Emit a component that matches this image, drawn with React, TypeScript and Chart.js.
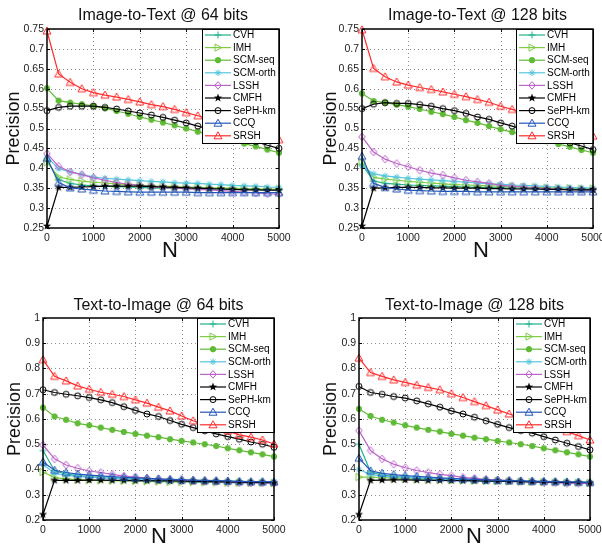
import React, { useEffect, useRef } from "react";
import { Chart, registerables } from "chart.js";

Chart.register(...registerables);

// ---------- data ----------
const N_VALUES = [0, 250, 500, 750, 1000, 1250, 1500, 1750, 2000, 2250, 2500, 2750, 3000, 3250, 3500, 3750, 4000, 4250, 4500, 4750, 5000];
const X_TICKS = [0, 1000, 2000, 3000, 4000, 5000];
const Y_TICKS_I2T = [0.25, 0.3, 0.35, 0.4, 0.45, 0.5, 0.55, 0.6, 0.65, 0.7, 0.75];
const Y_TICKS_T2I = [0.2, 0.3, 0.4, 0.5, 0.6, 0.7, 0.8, 0.9, 1];

const SERIES_NAMES = ["CVH", "IMH", "SCM-seq", "SCM-orth", "LSSH", "CMFH", "SePH-km", "CCQ", "SRSH"];
const SERIES_COLORS = ["#1fb38c", "#7fcc45", "#5fba35", "#55c6dd", "#bb63c8", "#000000", "#000000", "#2356b8", "#ff2b2b"];
const SERIES_MARKERS = ["plus", "triRight", "dot", "asterisk", "diamond", "star", "circle", "triUp", "triUp"];

// Image-to-Text @ 64 bits
const i2t64_CVH = [0.420, 0.372, 0.362, 0.358, 0.356, 0.355, 0.354, 0.353, 0.352, 0.351, 0.350, 0.350, 0.349, 0.349, 0.348, 0.348, 0.347, 0.347, 0.347, 0.346, 0.346];
const i2t64_IMH = [0.415, 0.378, 0.372, 0.368, 0.365, 0.363, 0.361, 0.359, 0.358, 0.356, 0.355, 0.354, 0.353, 0.352, 0.351, 0.350, 0.350, 0.349, 0.348, 0.348, 0.347];
const i2t64_SCMseq = [0.601, 0.570, 0.565, 0.561, 0.557, 0.551, 0.544, 0.537, 0.529, 0.522, 0.515, 0.508, 0.500, 0.492, 0.485, 0.477, 0.470, 0.462, 0.455, 0.447, 0.439];
const i2t64_SCMorth = [0.428, 0.399, 0.391, 0.385, 0.378, 0.375, 0.373, 0.371, 0.369, 0.367, 0.366, 0.364, 0.363, 0.362, 0.360, 0.359, 0.357, 0.356, 0.355, 0.353, 0.352];
const i2t64_LSSH = [0.437, 0.405, 0.391, 0.384, 0.376, 0.370, 0.364, 0.360, 0.357, 0.354, 0.352, 0.350, 0.349, 0.347, 0.346, 0.344, 0.342, 0.340, 0.338, 0.336, 0.335];
const i2t64_CMFH = [0.255, 0.352, 0.352, 0.353, 0.354, 0.355, 0.355, 0.355, 0.355, 0.354, 0.353, 0.352, 0.351, 0.350, 0.349, 0.348, 0.347, 0.346, 0.346, 0.345, 0.345];
const i2t64_SePH = [0.545, 0.553, 0.556, 0.556, 0.556, 0.553, 0.549, 0.544, 0.539, 0.534, 0.528, 0.521, 0.514, 0.506, 0.498, 0.490, 0.483, 0.475, 0.467, 0.458, 0.450];
const i2t64_CCQ = [0.425, 0.364, 0.351, 0.348, 0.345, 0.343, 0.342, 0.341, 0.340, 0.340, 0.340, 0.340, 0.340, 0.339, 0.339, 0.339, 0.339, 0.339, 0.339, 0.339, 0.339];
const i2t64_SRSH = [0.745, 0.637, 0.616, 0.600, 0.590, 0.584, 0.579, 0.573, 0.567, 0.560, 0.555, 0.548, 0.540, 0.532, 0.524, 0.516, 0.508, 0.500, 0.491, 0.482, 0.472];

// Image-to-Text @ 128 bits
const i2t128_CVH = [0.410, 0.368, 0.362, 0.360, 0.358, 0.357, 0.356, 0.355, 0.354, 0.353, 0.352, 0.352, 0.351, 0.350, 0.350, 0.349, 0.348, 0.348, 0.347, 0.347, 0.346];
const i2t128_IMH = [0.415, 0.377, 0.373, 0.370, 0.367, 0.365, 0.363, 0.361, 0.359, 0.358, 0.357, 0.356, 0.355, 0.354, 0.353, 0.352, 0.351, 0.350, 0.350, 0.349, 0.349];
const i2t128_SCMseq = [0.588, 0.569, 0.565, 0.560, 0.555, 0.549, 0.542, 0.536, 0.529, 0.521, 0.514, 0.506, 0.498, 0.491, 0.484, 0.476, 0.468, 0.461, 0.454, 0.446, 0.439];
const i2t128_SCMorth = [0.405, 0.386, 0.381, 0.378, 0.375, 0.373, 0.371, 0.369, 0.367, 0.365, 0.363, 0.361, 0.360, 0.358, 0.357, 0.356, 0.354, 0.353, 0.352, 0.351, 0.350];
const i2t128_LSSH = [0.479, 0.441, 0.423, 0.412, 0.404, 0.395, 0.388, 0.383, 0.376, 0.370, 0.366, 0.362, 0.357, 0.355, 0.353, 0.350, 0.349, 0.347, 0.347, 0.346, 0.346];
const i2t128_CMFH = [0.255, 0.350, 0.351, 0.352, 0.352, 0.352, 0.351, 0.351, 0.350, 0.350, 0.350, 0.349, 0.349, 0.348, 0.348, 0.348, 0.347, 0.347, 0.346, 0.346, 0.346];
const i2t128_SePH = [0.550, 0.561, 0.565, 0.563, 0.563, 0.560, 0.556, 0.550, 0.545, 0.538, 0.529, 0.523, 0.514, 0.506, 0.497, 0.489, 0.481, 0.473, 0.464, 0.456, 0.447];
const i2t128_CCQ = [0.430, 0.362, 0.352, 0.348, 0.345, 0.344, 0.343, 0.342, 0.342, 0.342, 0.341, 0.341, 0.341, 0.341, 0.341, 0.341, 0.341, 0.341, 0.341, 0.341, 0.341];
const i2t128_SRSH = [0.748, 0.651, 0.630, 0.617, 0.609, 0.603, 0.598, 0.592, 0.586, 0.580, 0.573, 0.566, 0.556, 0.548, 0.540, 0.532, 0.523, 0.513, 0.503, 0.492, 0.481];

// Text-to-Image @ 64 bits
const t2i64_CVH = [0.475, 0.395, 0.382, 0.376, 0.372, 0.369, 0.366, 0.364, 0.362, 0.360, 0.358, 0.357, 0.356, 0.355, 0.354, 0.353, 0.352, 0.351, 0.350, 0.350, 0.349];
const t2i64_IMH = [0.390, 0.368, 0.363, 0.360, 0.358, 0.357, 0.356, 0.355, 0.354, 0.353, 0.352, 0.351, 0.350, 0.350, 0.349, 0.349, 0.348, 0.348, 0.347, 0.347, 0.346];
const t2i64_SCMseq = [0.645, 0.610, 0.597, 0.583, 0.575, 0.566, 0.557, 0.549, 0.541, 0.534, 0.528, 0.520, 0.513, 0.507, 0.500, 0.493, 0.484, 0.476, 0.468, 0.460, 0.451];
const t2i64_SCMorth = [0.420, 0.385, 0.377, 0.373, 0.370, 0.368, 0.366, 0.364, 0.362, 0.360, 0.359, 0.358, 0.357, 0.356, 0.355, 0.354, 0.353, 0.352, 0.351, 0.351, 0.350];
const t2i64_LSSH = [0.497, 0.442, 0.418, 0.405, 0.394, 0.388, 0.381, 0.374, 0.370, 0.366, 0.362, 0.360, 0.357, 0.356, 0.353, 0.352, 0.349, 0.348, 0.347, 0.347, 0.345];
const t2i64_CMFH = [0.222, 0.357, 0.357, 0.357, 0.358, 0.358, 0.357, 0.357, 0.356, 0.356, 0.355, 0.355, 0.354, 0.353, 0.352, 0.352, 0.351, 0.350, 0.349, 0.349, 0.348];
const t2i64_SePH = [0.716, 0.705, 0.698, 0.692, 0.685, 0.676, 0.665, 0.649, 0.634, 0.620, 0.610, 0.594, 0.579, 0.566, 0.553, 0.541, 0.530, 0.520, 0.509, 0.500, 0.488];
const t2i64_CCQ = [0.430, 0.397, 0.388, 0.382, 0.378, 0.375, 0.372, 0.369, 0.367, 0.365, 0.363, 0.361, 0.360, 0.358, 0.357, 0.356, 0.355, 0.353, 0.352, 0.352, 0.351];
const t2i64_SRSH = [0.835, 0.769, 0.751, 0.731, 0.718, 0.706, 0.698, 0.689, 0.676, 0.663, 0.647, 0.632, 0.612, 0.593, 0.580, 0.567, 0.553, 0.537, 0.528, 0.517, 0.501];

// Text-to-Image @ 128 bits
const t2i128_CVH = [0.500, 0.390, 0.378, 0.373, 0.370, 0.367, 0.365, 0.363, 0.361, 0.359, 0.358, 0.356, 0.355, 0.354, 0.353, 0.352, 0.351, 0.350, 0.349, 0.349, 0.348];
const t2i128_IMH = [0.370, 0.370, 0.368, 0.366, 0.364, 0.362, 0.360, 0.359, 0.358, 0.357, 0.356, 0.355, 0.354, 0.353, 0.352, 0.351, 0.350, 0.349, 0.348, 0.348, 0.347];
const t2i128_SCMseq = [0.640, 0.612, 0.597, 0.586, 0.575, 0.566, 0.557, 0.550, 0.541, 0.534, 0.526, 0.520, 0.513, 0.507, 0.500, 0.493, 0.484, 0.476, 0.468, 0.460, 0.451];
const t2i128_SCMorth = [0.400, 0.380, 0.375, 0.372, 0.369, 0.367, 0.365, 0.363, 0.361, 0.360, 0.358, 0.357, 0.356, 0.355, 0.354, 0.353, 0.352, 0.351, 0.350, 0.350, 0.349];
const t2i128_LSSH = [0.554, 0.475, 0.442, 0.421, 0.407, 0.396, 0.388, 0.381, 0.376, 0.369, 0.365, 0.361, 0.358, 0.356, 0.353, 0.351, 0.349, 0.348, 0.345, 0.345, 0.345];
const t2i128_CMFH = [0.222, 0.357, 0.358, 0.359, 0.359, 0.358, 0.357, 0.357, 0.356, 0.356, 0.355, 0.354, 0.354, 0.353, 0.352, 0.351, 0.351, 0.350, 0.349, 0.349, 0.348];
const t2i128_SePH = [0.729, 0.705, 0.698, 0.689, 0.683, 0.672, 0.660, 0.647, 0.632, 0.620, 0.607, 0.593, 0.579, 0.566, 0.554, 0.544, 0.530, 0.517, 0.504, 0.491, 0.478];
const t2i128_CCQ = [0.445, 0.395, 0.385, 0.380, 0.376, 0.373, 0.370, 0.367, 0.365, 0.363, 0.361, 0.359, 0.357, 0.356, 0.355, 0.354, 0.353, 0.352, 0.351, 0.350, 0.349];
const t2i128_SRSH = [0.841, 0.784, 0.769, 0.755, 0.745, 0.734, 0.725, 0.716, 0.700, 0.685, 0.669, 0.653, 0.636, 0.620, 0.605, 0.590, 0.575, 0.562, 0.550, 0.534, 0.517];

const PANELS = [
  {
    title: "Image-to-Text @ 64 bits",
    yTicks: Y_TICKS_I2T,
    series: [i2t64_CVH, i2t64_IMH, i2t64_SCMseq, i2t64_SCMorth, i2t64_LSSH, i2t64_CMFH, i2t64_SePH, i2t64_CCQ, i2t64_SRSH],
  },
  {
    title: "Image-to-Text @ 128 bits",
    yTicks: Y_TICKS_I2T,
    series: [i2t128_CVH, i2t128_IMH, i2t128_SCMseq, i2t128_SCMorth, i2t128_LSSH, i2t128_CMFH, i2t128_SePH, i2t128_CCQ, i2t128_SRSH],
  },
  {
    title: "Text-to-Image @ 64 bits",
    yTicks: Y_TICKS_T2I,
    series: [t2i64_CVH, t2i64_IMH, t2i64_SCMseq, t2i64_SCMorth, t2i64_LSSH, t2i64_CMFH, t2i64_SePH, t2i64_CCQ, t2i64_SRSH],
  },
  {
    title: "Text-to-Image @ 128 bits",
    yTicks: Y_TICKS_T2I,
    series: [t2i128_CVH, t2i128_IMH, t2i128_SCMseq, t2i128_SCMorth, t2i128_LSSH, t2i128_CMFH, t2i128_SePH, t2i128_CCQ, t2i128_SRSH],
  },
];

// ---------- layout (page pixel coordinates) ----------
const LAYOUT = [
  { canvas: { left: 0, top: 0, w: 301, h: 275 }, plot: { l: 47, t: 29, r: 279, b: 228 }, titleY: 20, nX: 170, nY: 257, precX: 14 },
  { canvas: { left: 301, top: 0, w: 320, h: 275 }, plot: { l: 362, t: 29, r: 593, b: 228 }, titleY: 20, nX: 481, nY: 257, precX: 331 },
  { canvas: { left: 0, top: 275, w: 301, h: 275 }, plot: { l: 43, t: 318, r: 274, b: 520 }, titleY: 310, nX: 159, nY: 543, precX: 15 },
  { canvas: { left: 301, top: 275, w: 320, h: 275 }, plot: { l: 359, t: 318, r: 590, b: 520 }, titleY: 310, nX: 474, nY: 543, precX: 331 },
];

const FONT = "'Liberation Sans', Arial, Helvetica, sans-serif";

function drawMarker(ctx: CanvasRenderingContext2D, kind: string, color: string, x: number, y: number) {
  ctx.save();
  ctx.strokeStyle = color;
  ctx.fillStyle = color;
  ctx.lineWidth = 1;
  ctx.setLineDash([]);
  ctx.beginPath();
  switch (kind) {
    case "plus":
      ctx.moveTo(x - 3.5, y); ctx.lineTo(x + 3.5, y);
      ctx.moveTo(x, y - 3.5); ctx.lineTo(x, y + 3.5);
      ctx.stroke();
      break;
    case "triRight":
      ctx.moveTo(x - 3, y - 3.6); ctx.lineTo(x + 3.6, y); ctx.lineTo(x - 3, y + 3.6); ctx.closePath();
      ctx.stroke();
      break;
    case "dot":
      ctx.arc(x, y, 2.7, 0, Math.PI * 2);
      ctx.fill();
      ctx.stroke();
      break;
    case "asterisk":
      for (let k = 0; k < 4; k++) {
        const a = (k * Math.PI) / 4;
        ctx.moveTo(x - 3.3 * Math.cos(a), y - 3.3 * Math.sin(a));
        ctx.lineTo(x + 3.3 * Math.cos(a), y + 3.3 * Math.sin(a));
      }
      ctx.stroke();
      break;
    case "diamond":
      ctx.moveTo(x, y - 3.8); ctx.lineTo(x + 3.3, y); ctx.lineTo(x, y + 3.8); ctx.lineTo(x - 3.3, y); ctx.closePath();
      ctx.stroke();
      break;
    case "star":
      for (let k = 0; k < 10; k++) {
        const r = k % 2 === 0 ? 4.4 : 1.8;
        const a = -Math.PI / 2 + (k * Math.PI) / 5;
        const px = x + r * Math.cos(a), py = y + r * Math.sin(a);
        if (k === 0) ctx.moveTo(px, py); else ctx.lineTo(px, py);
      }
      ctx.closePath();
      ctx.fill();
      break;
    case "circle":
      ctx.arc(x, y, 3, 0, Math.PI * 2);
      ctx.stroke();
      break;
    case "triUp":
      ctx.moveTo(x, y - 4); ctx.lineTo(x + 4, y + 3); ctx.lineTo(x - 4, y + 3); ctx.closePath();
      ctx.stroke();
      break;
  }
  ctx.restore();
}

function makeMarker(kind: string, color: string): HTMLCanvasElement {
  const c = document.createElement("canvas");
  c.width = 12;
  c.height = 12;
  const ctx = c.getContext("2d")!;
  drawMarker(ctx, kind, color, 6, 6);
  return c;
}

function fmt(v: number) {
  return String(parseFloat(Number(v).toFixed(2)));
}

function Panel({ index }: { index: number }) {
  const ref = useRef<HTMLCanvasElement>(null);
  const L = LAYOUT[index];
  const P = PANELS[index];

  useEffect(() => {
    const canvas = ref.current!;
    const cx0 = L.canvas.left, cy0 = L.canvas.top;
    const rel = { l: L.plot.l - cx0, t: L.plot.t - cy0, r: L.plot.r - cx0, b: L.plot.b - cy0 };
    const markers = SERIES_MARKERS.map((m, i) => makeMarker(m, SERIES_COLORS[i]));
    const yMin = P.yTicks[0];
    const yMax = P.yTicks[P.yTicks.length - 1];

    const datasets = SERIES_NAMES.map((name, i) => ({
      label: name,
      data: N_VALUES.map((x, j) => ({ x, y: P.series[i][j] })),
      borderColor: SERIES_COLORS[i],
      backgroundColor: SERIES_COLORS[i],
      borderWidth: 1.2,
      pointStyle: markers[i] as any,
      pointRadius: 4,
      pointHoverRadius: 4,
      tension: 0,
      clip: false as any,
      order: SERIES_NAMES.length - i,
    }));

    const decor = {
      id: "decor",
      beforeDatasetsDraw(chart: any) {
        const { ctx, chartArea: a } = chart;
        const xs = chart.scales.x, ys = chart.scales.y;
        ctx.save();
        ctx.strokeStyle = "#8c8c8c";
        ctx.lineWidth = 1;
        ctx.setLineDash([1, 3]);
        X_TICKS.forEach((v) => {
          const px = Math.round(xs.getPixelForValue(v)) + 0.5;
          if (px <= a.left + 1 || px >= a.right - 1) return;
          ctx.beginPath(); ctx.moveTo(px, a.top); ctx.lineTo(px, a.bottom); ctx.stroke();
        });
        P.yTicks.forEach((v) => {
          const py = Math.round(ys.getPixelForValue(v)) + 0.5;
          if (py <= a.top + 1 || py >= a.bottom - 1) return;
          ctx.beginPath(); ctx.moveTo(a.left, py); ctx.lineTo(a.right, py); ctx.stroke();
        });
        ctx.restore();
      },
      afterDatasetsDraw(chart: any) {
        const { ctx, chartArea: a } = chart;
        const xs = chart.scales.x, ys = chart.scales.y;
        ctx.save();
        // inward tick marks
        ctx.strokeStyle = "#000";
        ctx.lineWidth = 1;
        ctx.setLineDash([]);
        X_TICKS.forEach((v) => {
          const px = Math.round(xs.getPixelForValue(v)) + 0.5;
          ctx.beginPath();
          ctx.moveTo(px, a.bottom); ctx.lineTo(px, a.bottom - 3);
          ctx.moveTo(px, a.top); ctx.lineTo(px, a.top + 3);
          ctx.stroke();
        });
        P.yTicks.forEach((v) => {
          const py = Math.round(ys.getPixelForValue(v)) + 0.5;
          ctx.beginPath();
          ctx.moveTo(a.left, py); ctx.lineTo(a.left + 3, py);
          ctx.moveTo(a.right, py); ctx.lineTo(a.right - 3, py);
          ctx.stroke();
        });
        // legend box
        ctx.font = `10px ${FONT}`;
        const maxW = Math.max(...SERIES_NAMES.map((n) => ctx.measureText(n).width));
        const lw = Math.round(31 + maxW + 3);
        const rowH = 12.6;
        const lh = Math.round(6 + rowH * (SERIES_NAMES.length - 1) + 7);
        const x0 = Math.round(a.right) - lw;
        const y0 = Math.round(a.top);
        ctx.fillStyle = "#fff";
        ctx.fillRect(x0, y0, lw, lh);
        ctx.strokeStyle = "#000";
        ctx.lineWidth = 1;
        ctx.strokeRect(x0 + 0.5, y0 + 0.5, lw, lh);
        SERIES_NAMES.forEach((name, i) => {
          const cy = y0 + 6 + i * rowH;
          ctx.strokeStyle = SERIES_COLORS[i];
          ctx.lineWidth = 1.2;
          ctx.beginPath();
          ctx.moveTo(x0 + 3, cy); ctx.lineTo(x0 + 29, cy);
          ctx.stroke();
          drawMarker(ctx, SERIES_MARKERS[i], SERIES_COLORS[i], x0 + 16, cy);
          ctx.fillStyle = "#000";
          ctx.textAlign = "left";
          ctx.textBaseline = "middle";
          ctx.fillText(name, x0 + 31, cy + 0.5);
        });
        // axes box
        ctx.strokeStyle = "#000";
        ctx.lineWidth = 1.5;
        ctx.strokeRect(a.left, a.top, a.right - a.left, a.bottom - a.top);
        ctx.restore();
      },
      afterDraw(chart: any) {
        const { ctx, chartArea: a } = chart;
        ctx.save();
        ctx.fillStyle = "#111";
        ctx.textAlign = "center";
        ctx.textBaseline = "alphabetic";
        ctx.font = `16px ${FONT}`;
        ctx.fillText(P.title, (a.left + a.right) / 2, L.titleY - cy0);
        ctx.font = `22px ${FONT}`;
        ctx.fillText("N", L.nX - cx0, L.nY - cy0);
        ctx.translate(L.precX - cx0, (a.top + a.bottom) / 2);
        ctx.rotate(-Math.PI / 2);
        ctx.textBaseline = "middle";
        ctx.font = `18px ${FONT}`;
        ctx.fillText("Precision", 0, 0);
        ctx.restore();
      },
    };

    const tickFont = { family: FONT, size: 10.5 };
    const chart = new Chart(canvas, {
      type: "line",
      data: { datasets: datasets as any },
      options: {
        responsive: false,
        animation: false,
        events: [],
        layout: { padding: { left: 0, top: rel.t, right: L.canvas.w - rel.r, bottom: 0 } },
        plugins: { legend: { display: false }, tooltip: { enabled: false }, title: { display: false } },
        scales: {
          x: {
            type: "linear",
            min: 0,
            max: 5000,
            afterBuildTicks: (s: any) => { s.ticks = X_TICKS.map((v) => ({ value: v })); },
            afterFit: (s: any) => { s.height = L.canvas.h - rel.b; },
            ticks: { font: tickFont, color: "#222", padding: 4, maxRotation: 0, autoSkip: false, callback: (v: any) => String(v) },
            grid: { display: false, drawTicks: false },
            border: { display: false },
          },
          y: {
            type: "linear",
            min: yMin,
            max: yMax,
            afterBuildTicks: (s: any) => { s.ticks = P.yTicks.map((v) => ({ value: v })); },
            afterFit: (s: any) => { s.width = rel.l; },
            ticks: { font: tickFont, color: "#222", padding: 3, autoSkip: false, callback: (v: any) => fmt(v) },
            grid: { display: false, drawTicks: false },
            border: { display: false },
          },
        },
      } as any,
      plugins: [decor as any],
    });
    return () => chart.destroy();
  }, []);

  return (
    <canvas
      ref={ref}
      width={L.canvas.w}
      height={L.canvas.h}
      style={{ position: "absolute", left: L.canvas.left, top: L.canvas.top, width: L.canvas.w, height: L.canvas.h, display: "block" }}
    />
  );
}

export default function App() {
  return (
    <div style={{ position: "fixed", left: 0, top: 0, width: 602, height: 550, overflow: "hidden", background: "#fff" }}>
      {PANELS.map((_, i) => (
        <Panel key={i} index={i} />
      ))}
    </div>
  );
}
